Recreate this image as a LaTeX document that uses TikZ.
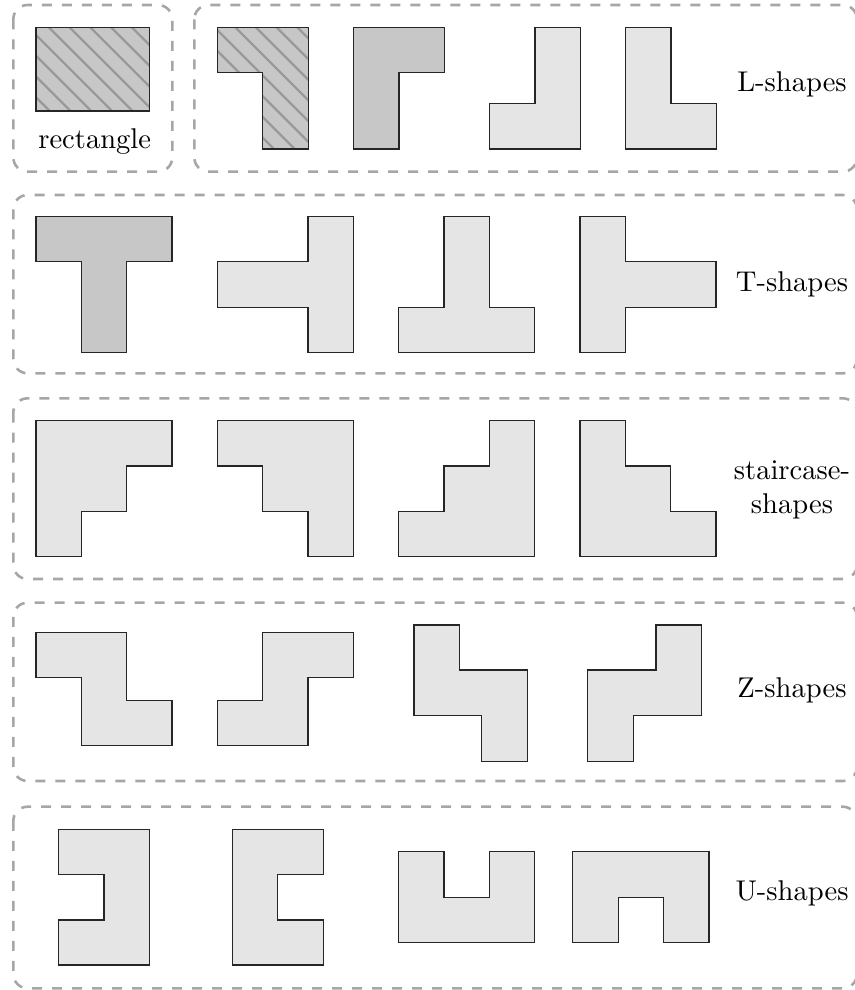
\documentclass[tikz,border=0pt]{standalone}
\usepackage{tikz}

\tikzset{
  shp/.style={draw=black!85, line width=0.5pt},
  dark/.style={shp, fill=black!22},
  light/.style={shp, fill=black!10},
  hatch/.style={draw=black!40, line width=0.8pt},
  grp/.style={draw=black!35, dash pattern=on 3.5pt off 3.5pt, line width=0.9pt, rounded corners=5pt},
  lbl/.style={align=center, inner sep=0pt}
}

\begin{document}
\begin{tikzpicture}[x=0.35pt, y=-0.35pt]
  \useasboundingbox (0,0) rectangle (854,990);

  % dashed groups
  \draw[grp] (13.3,5) rectangle (172.3,171.7);
  \draw[grp] (194.3,5) rectangle (857,171.7);
  \draw[grp] (13.3,195) rectangle (857,373.3);
  \draw[grp] (13.3,398.3) rectangle (857,579);
  \draw[grp] (13.3,602.7) rectangle (857,781);
  \draw[grp] (13.3,806.7) rectangle (857,988.3);

  % row 1: rectangle and L-shapes
  \fill[black!22] (36,27.7) rectangle (149.3,111);
  \begin{scope}
    \clip (36,27.7) rectangle (149.3,111);
    \foreach \c in {-6,...,14} \draw[hatch] ({21.6+20.7*\c},0) -- ++(200,200);
  \end{scope}
  \draw[shp] (36,27.7) rectangle (149.3,111);
  \node[lbl] (rect) at (94.7,142) {rectangle};

  \fill[black!22] (217.3,27.7) -- (308.3,27.7) -- (308.3,149) -- (262.7,149) -- (262.7,72.7) -- (217.3,72.7) -- cycle;
  \begin{scope}
    \clip (217.3,27.7) -- (308.3,27.7) -- (308.3,149) -- (262.7,149) -- (262.7,72.7) -- (217.3,72.7) -- cycle;
    \foreach \c in {-6,...,14} \draw[hatch] ({21.6+20.7*\c},0) -- ++(200,200);
  \end{scope}
  \draw[shp] (217.3,27.7) -- (308.3,27.7) -- (308.3,149) -- (262.7,149) -- (262.7,72.7) -- (217.3,72.7) -- cycle;
  \draw[dark] (353.3,27.7) -- (444.3,27.7) -- (444.3,72.7) -- (399,72.7) -- (399,149) -- (353.3,149) -- cycle;
  \draw[light] (489.3,103.3) -- (535,103.3) -- (535,27.7) -- (580.3,27.7) -- (580.3,149) -- (489.3,149) -- cycle;
  \draw[light] (625.3,27.7) -- (671,27.7) -- (671,103.3) -- (716.7,103.3) -- (716.7,149) -- (625.3,149) -- cycle;
  \node[lbl] (lshapes) at (792,84) {L-shapes};

  % row 2: T-shapes
  \draw[dark] (36,216.7) -- (172,216.7) -- (172,261.7) -- (126.7,261.7) -- (126.7,352.7) -- (81.3,352.7) -- (81.3,261.7) -- (36,261.7) -- cycle;
  \draw[light] (308,216.7) -- (353.3,216.7) -- (353.3,352.7) -- (308,352.7) -- (308,307.3) -- (217.3,307.3) -- (217.3,261.7) -- (308,261.7) -- cycle;
  \draw[light] (444,216.7) -- (489.3,216.7) -- (489.3,307.3) -- (534.7,307.3) -- (534.7,352.7) -- (398.7,352.7) -- (398.7,307.3) -- (444,307.3) -- cycle;
  \draw[light] (580,216.7) -- (625.3,216.7) -- (625.3,261.7) -- (716,261.7) -- (716,307.3) -- (625.3,307.3) -- (625.3,352.7) -- (580,352.7) -- cycle;
  \node[lbl] (tshapes) at (792,284) {T-shapes};

  % row 3: staircase-shapes
  \draw[light] (36,420.7) -- (172,420.7) -- (172,466) -- (126.7,466) -- (126.7,511.3) -- (81.3,511.3) -- (81.3,556.7) -- (36,556.7) -- cycle;
  \draw[light] (217.3,420.7) -- (353.3,420.7) -- (353.3,556.7) -- (308,556.7) -- (308,511.3) -- (262.7,511.3) -- (262.7,466) -- (217.3,466) -- cycle;
  \draw[light] (398.7,556.7) -- (534.7,556.7) -- (534.7,420.7) -- (489.3,420.7) -- (489.3,466) -- (444,466) -- (444,511.3) -- (398.7,511.3) -- cycle;
  \draw[light] (580,420.7) -- (625.3,420.7) -- (625.3,466) -- (670.7,466) -- (670.7,511.3) -- (716,511.3) -- (716,556.7) -- (580,556.7) -- cycle;
  \node[lbl] (sshapes) at (792,490) {staircase-\\shapes};

  % row 4: Z-shapes
  \draw[light] (36,632.3) -- (126.7,632.3) -- (126.7,700.3) -- (172,700.3) -- (172,745.7) -- (81.3,745.7) -- (81.3,677.7) -- (36,677.7) -- cycle;
  \draw[light] (217.3,700.3) -- (262.7,700.3) -- (262.7,632.3) -- (353.3,632.3) -- (353.3,677.7) -- (308,677.7) -- (308,745.7) -- (217.3,745.7) -- cycle;
  \draw[light] (414,625) -- (459.3,625) -- (459.3,670) -- (527.3,670) -- (527.3,761.3) -- (481.7,761.3) -- (481.7,715.7) -- (414,715.7) -- cycle;
  \draw[light] (656,625) -- (701.3,625) -- (701.3,715.7) -- (633.3,715.7) -- (633.3,761.3) -- (587.3,761.3) -- (587.3,670) -- (656,670) -- cycle;
  \node[lbl] (zshapes) at (792,690) {Z-shapes};

  % row 5: U-shapes
  \draw[light] (58.3,829.3) -- (149.3,829.3) -- (149.3,965) -- (58.3,965) -- (58.3,920) -- (104,920) -- (104,874.7) -- (58.3,874.7) -- cycle;
  \draw[light] (232.3,829.3) -- (323.3,829.3) -- (323.3,874.7) -- (277.7,874.7) -- (277.7,920) -- (323.3,920) -- (323.3,965) -- (232.3,965) -- cycle;
  \draw[light] (398.7,851.7) -- (444,851.7) -- (444,897.3) -- (489.3,897.3) -- (489.3,851.7) -- (534.7,851.7) -- (534.7,942.7) -- (398.7,942.7) -- cycle;
  \draw[light] (572.3,851.7) -- (709,851.7) -- (709,942.7) -- (663.7,942.7) -- (663.7,897.3) -- (618.3,897.3) -- (618.3,942.7) -- (572.3,942.7) -- cycle;
  \node[lbl] (ushapes) at (792,893) {U-shapes};
\end{tikzpicture}
\end{document}
